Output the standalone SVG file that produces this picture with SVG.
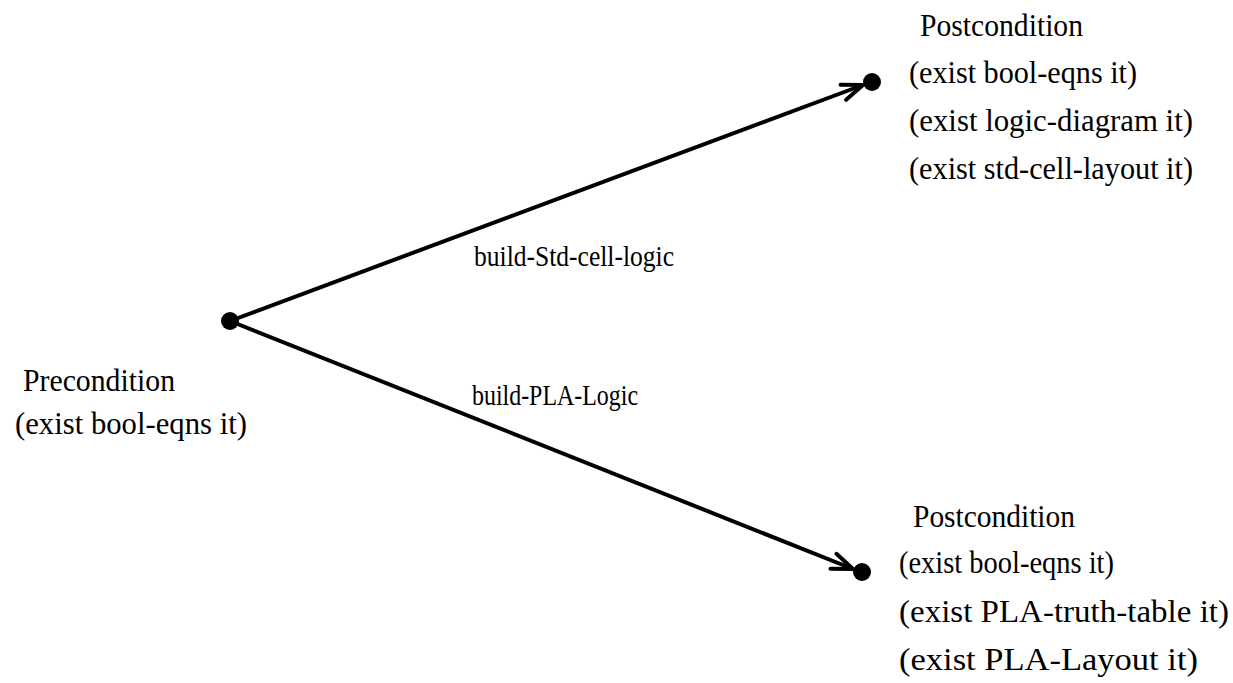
<svg xmlns="http://www.w3.org/2000/svg" width="1233" height="683" viewBox="0 0 1233 683">
  <style>
    .t { font-family: "Liberation Serif", "DejaVu Serif", serif; font-size: 31px; fill: #000; }
    .lbl { font-family: "Liberation Serif", "DejaVu Serif", serif; font-size: 30px; fill: #000; }
    .edge { stroke: #000; stroke-width: 4; fill: none; stroke-linecap: round; }
    .dot { fill: #000; }
  </style>
  <defs>
    <marker id="arrow" markerUnits="userSpaceOnUse" viewBox="-24 -12 28 24" refX="0" refY="0" markerWidth="28" markerHeight="24" orient="auto">
      <path d="M -21 -8 L 0 0 L -21 8" fill="none" stroke="#000" stroke-width="4" stroke-linecap="round" stroke-linejoin="round"/>
    </marker>
  </defs>
  <rect width="1233" height="683" fill="#fff"/>

  <g id="connectors">
    <line class="edge" x1="230" y1="321" x2="863" y2="85" marker-end="url(#arrow)"/>
    <line class="edge" x1="230" y1="321" x2="853" y2="569" marker-end="url(#arrow)"/>
    <text class="lbl" x="474" y="266" textLength="200" lengthAdjust="spacingAndGlyphs">build-Std-cell-logic</text>
    <text class="lbl" x="472" y="405" textLength="166" lengthAdjust="spacingAndGlyphs">build-PLA-Logic</text>
  </g>

  <g id="precondition">
    <circle class="dot" cx="230" cy="321" r="9"/>
    <text class="t" x="23" y="391" textLength="152" lengthAdjust="spacingAndGlyphs">Precondition</text>
    <text class="t" x="15" y="434" textLength="232" lengthAdjust="spacingAndGlyphs">(exist bool-eqns it)</text>
  </g>

  <g id="postcondition-std-cell">
    <circle class="dot" cx="872" cy="82" r="9"/>
    <text class="t" x="920" y="36" textLength="163" lengthAdjust="spacingAndGlyphs">Postcondition</text>
    <text class="t" x="909" y="83" textLength="228" lengthAdjust="spacingAndGlyphs">(exist bool-eqns it)</text>
    <text class="t" x="909" y="131" textLength="284" lengthAdjust="spacingAndGlyphs">(exist logic-diagram it)</text>
    <text class="t" x="909" y="179" textLength="284" lengthAdjust="spacingAndGlyphs">(exist std-cell-layout it)</text>
  </g>

  <g id="postcondition-pla">
    <circle class="dot" cx="862" cy="572" r="9"/>
    <text class="t" x="913" y="527" textLength="162" lengthAdjust="spacingAndGlyphs">Postcondition</text>
    <text class="t" x="899" y="573" textLength="215" lengthAdjust="spacingAndGlyphs">(exist bool-eqns it)</text>
    <text class="t" x="899" y="622" textLength="330" lengthAdjust="spacingAndGlyphs">(exist PLA-truth-table it)</text>
    <text class="t" x="899" y="670" textLength="299" lengthAdjust="spacingAndGlyphs">(exist PLA-Layout it)</text>
  </g>
</svg>
